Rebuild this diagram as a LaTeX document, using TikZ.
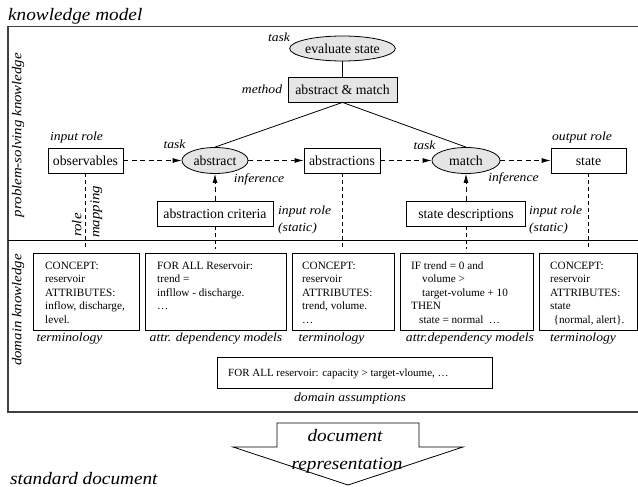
\documentclass[tikz,border=0pt]{standalone}
\usepackage{fontspec}
\setmainfont{Liberation Serif}[ItalicFeatures={FakeStretch=1.1}]
\usetikzlibrary{shapes.geometric,arrows.meta}
\begin{document}
\begin{tikzpicture}[x=1pt,y=-1pt,
  nodefont/.style={font=\fontsize{13.8}{16}\selectfont, text height=9.4pt, text depth=0pt},
  ell/.style={ellipse, draw, line width=0.8pt, fill=black!10, inner sep=0pt, minimum height=25, nodefont},
  rbox/.style={rectangle, draw, line width=0.8pt, inner sep=0pt, minimum height=25, nodefont},
  mbox/.style={rbox, fill=black!10},
  lbox/.style={rectangle, draw, line width=0.8pt, anchor=north west, inner sep=0pt, minimum height=77},
  ltext/.style={anchor=north west, inner sep=0pt, align=left, font=\fontsize{11.2}{13.5}\selectfont},
  lab/.style={inner sep=0pt, font=\fontsize{12.4}{15}\selectfont\itshape, text height=9pt, text depth=2.6pt},
  lab2/.style={anchor=north west, inner sep=0pt, align=left, font=\fontsize{12.4}{17}\selectfont\itshape},
  vlab/.style={inner sep=0pt, rotate=90, font=\fontsize{13.5}{16}\selectfont\itshape, text height=9.7pt, text depth=3pt},
  bigl/.style={inner sep=0pt, font=\fontsize{17.5}{21}\selectfont\itshape, text height=12pt, text depth=3.5pt},
  darr/.style={line width=0.8pt, dash pattern=on 5pt off 3.5pt, -{Latex[length=9pt,width=5pt]}},
  dline/.style={line width=0.8pt, dash pattern=on 4pt off 3pt, shorten >=4pt},
  sline/.style={line width=0.8pt},
  outerframe/.style={line width=1.2pt, draw=black!75}
]
\useasboundingbox (0,0) rectangle (638,487);

% title and frame
\node[bigl, anchor=base west] (title) at (8,20.5) {knowledge model};
\draw[outerframe] (638,26.5) -| (8,412) -- (638,412);
\draw[sline] (8,240) -- (638,240);
\node[vlab] (psk) at (18,135) {problem-solving knowledge};
\node[vlab] (dk) at (18,310) {domain knowledge};

% upper part
\node[ell, minimum width=99] (eval) at (342.5,48.5) {evaluate state};
\node[mbox, minimum width=109] (am) at (342.5,89.5) {abstract \& match};
\node[rbox, minimum width=75] (obs) at (85.5,160.5) {observables};
\node[ell, minimum width=66, minimum height=26] (abs) at (215,160.5) {abstract};
\node[rbox, minimum width=76] (absn) at (342,160.5) {abstractions};
\node[ell, minimum width=68, minimum height=26] (match) at (466,160.5) {match};
\node[rbox, minimum width=75] (state) at (588.5,160.5) {state};
\node[rbox, minimum width=116] (crit) at (215,213.5) {abstraction criteria};
\node[rbox, minimum width=119] (sdesc) at (466,213.5) {state descriptions};

\node[lab] (t1) at (279,38) {task};
\node[lab] (m1) at (262,90) {method};
\node[lab] (t2) at (174.5,145) {task};
\node[lab] (i1) at (259,179) {inference};
\node[lab] (ir1) at (76.5,137) {input role};
\node[lab] (t3) at (424.5,146) {task};
\node[lab] (i2) at (513.5,178) {inference};
\node[lab] (or) at (582,137) {output role};
\node[lab2] (irs1) at (278,205.5) {input role\\(static)};
\node[lab2] (irs2) at (529,205.5) {input role\\(static)};
\node[vlab] (role) at (78,225) {role};
\node[vlab] (mapping) at (96,212) {mapping};

\draw[sline] (eval) -- (am);
\draw[sline] (am.south) -- (abs.north);
\draw[sline] (am.south) -- (match.north);
\draw[darr] (obs) -- (abs);
\draw[darr] (abs) -- (absn);
\draw[darr] (absn) -- (match);
\draw[darr] (match) -- (state);
\draw[darr] (crit) -- (abs);
\draw[darr] (sdesc) -- (match);

% lower part
\node[lbox, minimum width=106] (b1) at (33,253) {};
\node[lbox, minimum width=141] (b2) at (145,253) {};
\node[lbox, minimum width=102] (b3) at (292,253) {};
\node[lbox, minimum width=133] (b4) at (400,253) {};
\node[lbox, minimum width=98] (b5) at (539,253) {};

\node[ltext] (bt1) at (45,261.5) {CONCEPT:\\reservoir\\ATTRIBUTES:\\inflow, discharge,\\level.};
\node[ltext] (bt2) at (157,261.5) {FOR ALL Reservoir:\\trend =\\infllow - discharge.\\…};
\node[ltext] (bt3) at (302,261.5) {CONCEPT:\\reservoir\\ATTRIBUTES:\\trend, volume.\\…};
\node[ltext] (bt4) at (411,261.5) {IF trend = 0 and\\\hspace*{11pt}volume >\\\hspace*{11pt}target-volume + 10\\THEN\\\hspace*{8pt}state = normal\enspace…};
\node[ltext] (bt5) at (550,261.5) {CONCEPT:\\reservoir\\ATTRIBUTES:\\state\\\hspace*{3.5pt}\{normal, alert\}.};

\node[lab] (l1) at (69.5,338.5) {terminology};
\node[lab] (l2) at (216,338.5) {attr. dependency models};
\node[lab] (l3) at (331.5,338.5) {terminology};
\node[lab] (l4) at (470,338.5) {attr.dependency models};
\node[lab] (l5) at (583,338.5) {terminology};

\node[rectangle, draw, line width=0.8pt, anchor=north west, inner sep=0pt, minimum width=275, minimum height=31] (da) at (217,357) {};
\node[inner sep=0pt, anchor=base west, font=\fontsize{11}{13}\selectfont] (dat) at (228,376.5) {FOR ALL reservoir: capacity > target-vloume, …};
\node[lab] (dal) at (350,398.5) {domain assumptions};

\draw[dline] (obs.south) -- (obs.south |- b1.north);
\draw[dline] (absn.south) -- (absn.south |- b3.north);
\draw[dline] (state.south) -- (state.south |- b5.north);
\draw[dline] (crit.south) -- (crit.south |- b2.north);
\draw[dline] (sdesc.south) -- (sdesc.south |- b4.north);

% bottom arrow
\draw[sline] (277,423) -- (419,423) -- (419,447) -- (463,447) -- (348,485) -- (233,447) -- (277,447) -- cycle;
\node[bigl] (doc1) at (345,437.5) {document};
\node[bigl] (doc2) at (347,465.5) {representation};
\node[bigl, anchor=base west] (std) at (10,484) {standard document};
\end{tikzpicture}
\end{document}
